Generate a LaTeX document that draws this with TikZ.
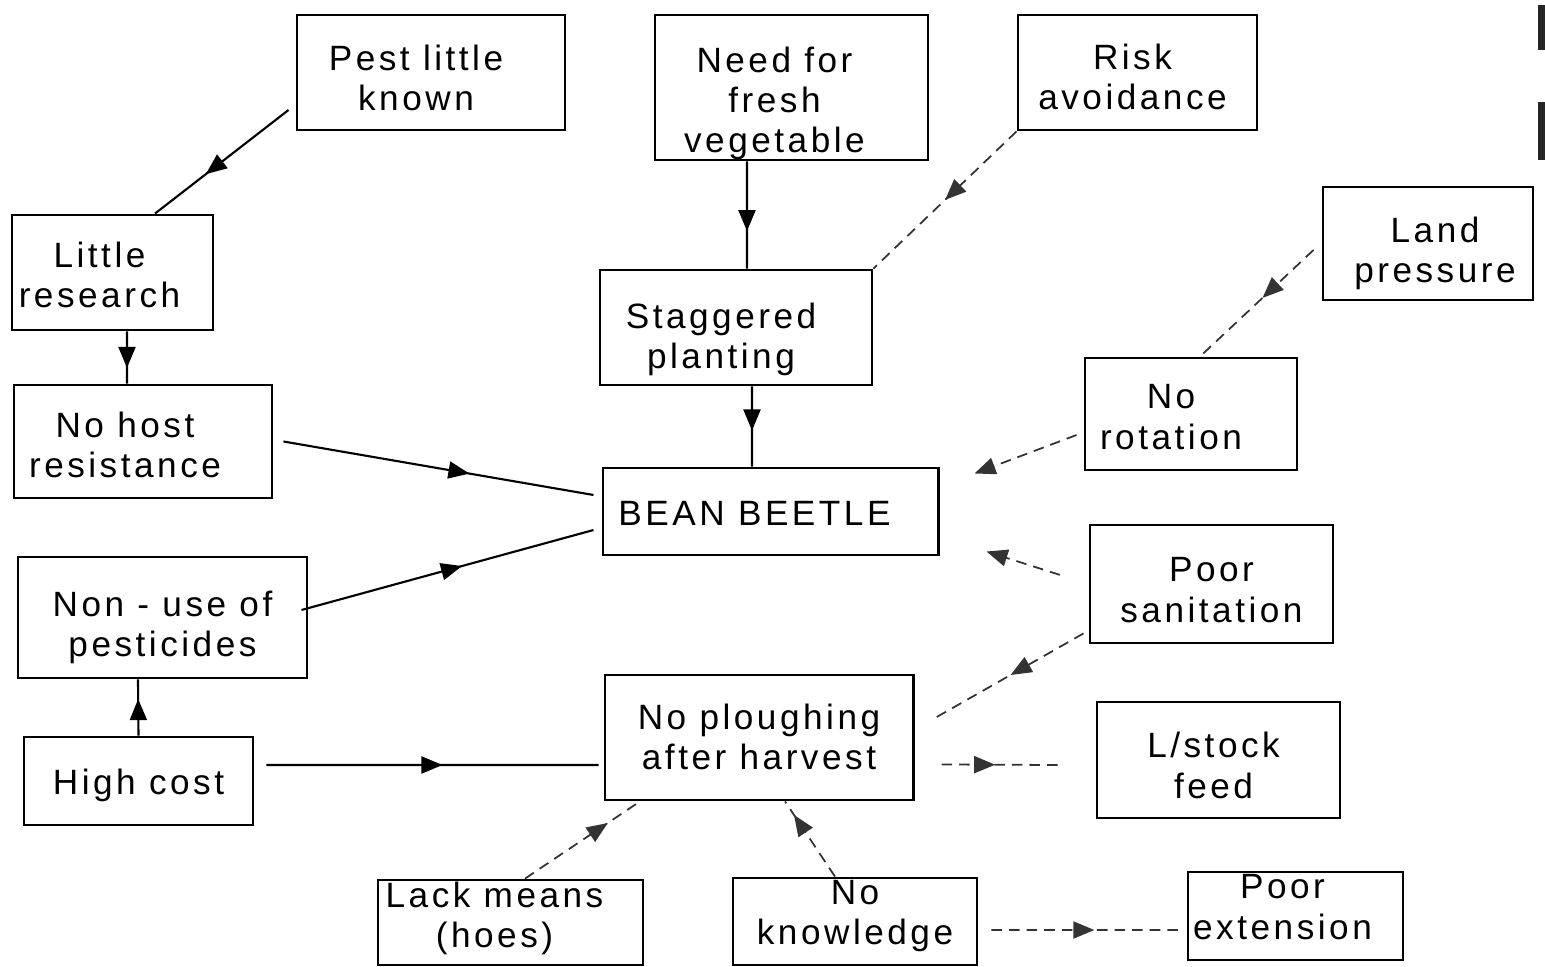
\documentclass[tikz,border=0pt]{standalone}
\usepackage{fontspec}
\setmainfont{Liberation Sans}[LetterSpace=10]
\usetikzlibrary{arrows.meta,decorations.markings}
\newcommand\bt[3]{\raisebox{#2}[\height][\depth]{\makebox[0pt][c]{\hspace*{#1}\begin{tabular}{@{}c@{}}#3\end{tabular}}}}
\tikzset{
  box/.style={draw, line width=0.8pt, rectangle, inner sep=0pt,
    font=\fontsize{10}{11.4}\selectfont},
  conn/.style={line width=0.6pt},
  faint/.style={line width=0.5pt, densely dashed, draw=black!80},
  midarrow/.style={postaction={decorate}, decoration={markings,
    mark=at position #1 with {\arrow{Triangle[length=2.1mm,width=1.7mm]}}}}
}
\begin{document}
\begin{tikzpicture}[x=0.01cm,y=-0.01cm]
\useasboundingbox (0,0) rectangle (1545,967);
% scan marks at right edge
\fill[black!85] (1538,5) rectangle (1545,50);
\fill[black!85] (1538,102) rectangle (1545,160);

\node[box, minimum width=2.68cm, minimum height=1.15cm] (pest) at (431,72.5) {\bt{-0.30cm}{-0.10cm}{Pest little\\known}};
\node[box, minimum width=2.73cm, minimum height=1.45cm] (need) at (791.5,87.5) {\bt{-0.34cm}{-0.17cm}{Need for\\fresh\\vegetable}};
\node[box, minimum width=2.39cm, minimum height=1.15cm] (risk) at (1137.5,72.5) {\bt{-0.10cm}{-0.09cm}{Risk\\avoidance}};
\node[box, minimum width=2.01cm, minimum height=1.15cm] (little) at (112.5,272.5) {\bt{-0.26cm}{-0.07cm}{Little\\research}};
\node[box, minimum width=2.72cm, minimum height=1.15cm] (stag) at (736,327.5) {\bt{-0.30cm}{-0.13cm}{Staggered\\planting}};
\node[box, minimum width=2.10cm, minimum height=1.13cm] (land) at (1428,243.5) {\bt{0.14cm}{-0.11cm}{Land\\pressure}};
\node[box, minimum width=2.58cm, minimum height=1.13cm] (nohost) at (143,441.5) {\bt{-0.36cm}{-0.08cm}{No host\\resistance}};
\node[box, minimum width=2.12cm, minimum height=1.12cm] (norot) at (1191,414) {\bt{-0.40cm}{-0.07cm}{No\\rotation}};
\node[box, minimum width=3.35cm, minimum height=0.87cm] (bean) at (770.5,511.5) {\bt{-0.32cm}{-0.06cm}{BEAN BEETLE}};
\node[box, minimum width=2.43cm, minimum height=1.18cm] (poorsan) at (1211.5,584) {\bt{0cm}{-0.10cm}{Poor\\sanitation}};
\node[box, minimum width=2.89cm, minimum height=1.21cm] (nonuse) at (162.5,617.5) {\bt{0cm}{-0.11cm}{Non - use of\\pesticides}};
\node[box, minimum width=2.29cm, minimum height=0.88cm] (high) at (138.5,781) {\bt{0cm}{-0.05cm}{High cost}};
\node[box, minimum width=3.08cm, minimum height=1.25cm] (noplough) at (759,737.5) {\bt{0cm}{-0.04cm}{No ploughing\\after harvest}};
\node[box, minimum width=2.43cm, minimum height=1.16cm] (lstock) at (1218.5,760) {\bt{-0.10cm}{-0.10cm}{L/stock\\feed}};
\node[box, minimum width=2.65cm, minimum height=0.85cm] (lack) at (510.5,922.5) {\bt{-0.32cm}{0.03cm}{Lack means\\(hoes)}};
\node[box, minimum width=2.44cm, minimum height=0.87cm] (noknow) at (855,921.5) {\bt{0cm}{0.05cm}{No\\knowledge}};
\node[box, minimum width=2.15cm, minimum height=0.88cm] (poorext) at (1295.5,916) {\bt{-0.26cm}{0.05cm}{Poor\\extension}};

% connectors
\draw[conn, midarrow=0.62] ([xshift=-0.07cm,yshift=-0.375cm]pest.west) -- ([xshift=0.425cm]little.north);
\draw[conn, midarrow=0.65] ([xshift=-0.445cm]need.south) -- ([xshift=0.11cm]stag.north);
\draw[faint, midarrow=0.5] (risk.south west) -- (stag.north east);
\draw[faint, midarrow=0.45] ([xshift=-0.08cm,yshift=-0.065cm]land.west) -- ([xshift=0.09cm]norot.north);
\draw[conn, midarrow=0.7] ([xshift=0.145cm]little.south) -- ([xshift=-0.16cm]nohost.north);
\draw[conn, midarrow=0.55] ([xshift=0.16cm]stag.south) -- ([xshift=-0.185cm]bean.north);
\draw[conn, midarrow=0.6] ([xshift=0.1cm]nohost.east) -- ([xshift=-0.08cm,yshift=0.165cm]bean.west);
\draw[faint, -{Triangle[length=2.1mm,width=1.7mm]}] ([xshift=-0.07cm,yshift=-0.21cm]norot.west) -- ([xshift=0.35cm,yshift=0.38cm]bean.east);
\draw[faint, -{Triangle[length=2.1mm,width=1.7mm]}, shorten <=0.3cm] (poorsan.west) -- ([xshift=0.47cm,yshift=-0.4cm]bean.east);
\draw[conn, midarrow=0.55] ([xshift=-0.07cm,yshift=0.075cm]nonuse.east) -- ([xshift=-0.08cm,yshift=-0.185cm]bean.west);
\draw[conn, midarrow=0.65] (high.north) -- ([xshift=-0.245cm]nonuse.south);
\draw[conn, midarrow=0.53] ([xshift=0.12cm,yshift=0.16cm]high.east) -- ([xshift=-0.05cm,yshift=-0.275cm]noplough.west);
\draw[faint, midarrow=0.48] ([xshift=-0.05cm,yshift=0.11cm]poorsan.south west) -- ([xshift=0.17cm,yshift=0.175cm]noplough.east);
\draw[faint, midarrow=0.44] ([xshift=0.27cm,yshift=-0.27cm]noplough.east) -- ([xshift=-0.32cm,yshift=-0.05cm]lstock.west);
\draw[faint, midarrow=0.72] ([xshift=0.145cm]lack.north) -- ([xshift=-1.19cm]noplough.south);
\draw[faint, midarrow=0.82] ([xshift=-0.2cm]noknow.north) -- ([xshift=0.26cm]noplough.south);
\draw[faint, midarrow=0.55] ([xshift=0.13cm,yshift=-0.085cm]noknow.east) -- ([xshift=-0.08cm,yshift=-0.14cm]poorext.west);
\end{tikzpicture}
\end{document}
